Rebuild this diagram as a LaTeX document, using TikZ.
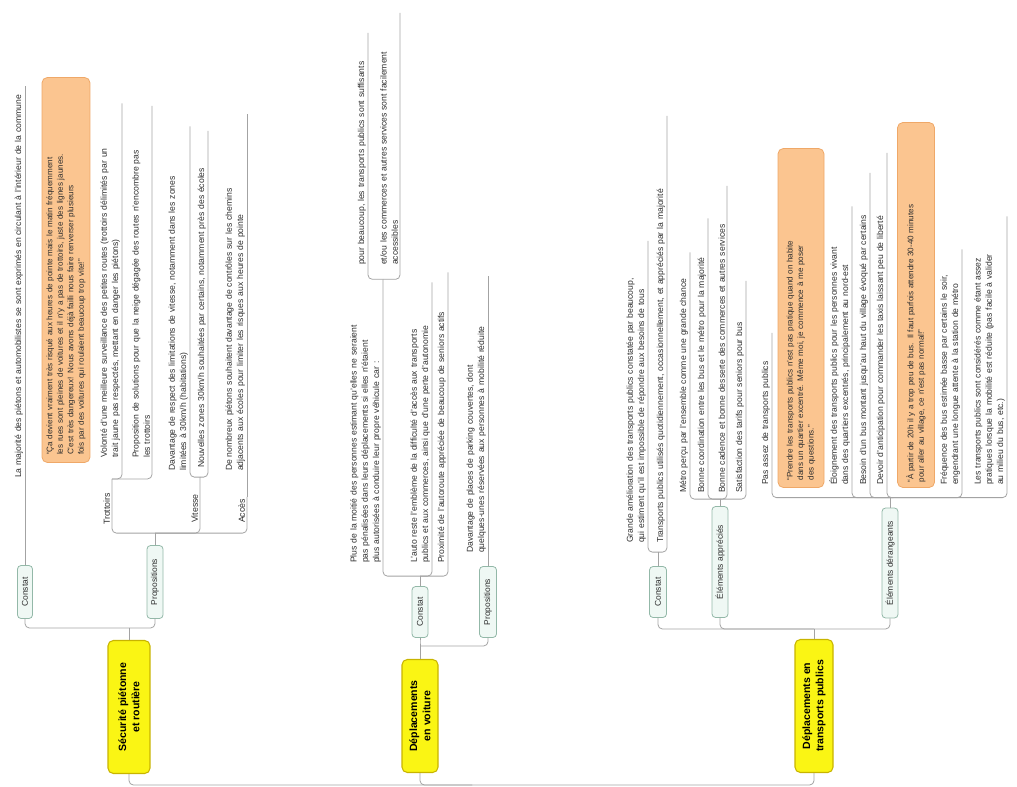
\documentclass[tikz,border=0pt]{standalone}
\usepackage{fontspec}
\setmainfont{Liberation Sans}
\usepackage{tikz}

\definecolor{branchgray}{HTML}{A3A3A3}
\definecolor{topicyellow}{HTML}{FAF514}
\definecolor{topicborder}{HTML}{C8B400}
\definecolor{labelfill}{HTML}{EFF8F4}
\definecolor{labelborder}{HTML}{93B8A8}
\definecolor{quotefill}{HTML}{FBC590}
\definecolor{quoteborder}{HTML}{EFA868}
\definecolor{leaftext}{HTML}{2E2E2E}

\tikzset{
  branch/.style={draw=branchgray, line width=0.45pt, rounded corners=2.5pt},
  topic box/.style={rotate=90, draw=topicborder, fill=topicyellow, rounded corners=3pt, line width=0.6pt, align=center, inner sep=1pt, font=\fontsize{6}{7.5}\selectfont\bfseries},
  label box/.style={rotate=90, draw=labelborder, fill=labelfill, rounded corners=2pt, line width=0.45pt, inner sep=1pt, text=leaftext, font=\fontsize{4.8}{6}\selectfont},
  sub label/.style={rotate=90, anchor=south west, inner sep=1pt, text=leaftext, font=\fontsize{5}{6}\selectfont},
  leaf/.style={rotate=90, anchor=south west, align=left, inner sep=1pt, text=leaftext, font=\fontsize{4.9}{6.4}\selectfont},
  quote box/.style={rotate=90, draw=quoteborder, fill=quotefill, rounded corners=3pt, line width=0.45pt, align=left, inner sep=2pt, text=leaftext, font=\fontsize{4.6}{6}\selectfont}
}

\begin{document}
\begin{tikzpicture}[x=0.02cm, y=-0.02cm]
\useasboundingbox (0, 0) rectangle (1017, 787);

\node[topic box, minimum width=2.66cm, minimum height=0.84cm] (securite box) at (129, 707) {Sécurité piétonne\\et routière};
\node[label box, minimum width=1.06cm, minimum height=0.3cm] (securite constat) at (25, 592) {Constat};
\node[label box, minimum width=1.46cm, minimum height=0.32cm] (securite propositions) at (155, 582) {Propositions};

\node[leaf, text width=7.8cm] (securite majorite) at (25, 480) {La majorité des piétons et automobilistes se sont exprimés en circulant à l'intérieur de la commune};
\node[quote box, minimum width=7.7cm, minimum height=0.96cm, text width=7.4cm] (securite citation) at (66, 270) {“Ça devient vraiment très risqué aux heures de pointe mais le matin fréquemment\\les rues sont pleines de voitures et il n'y a pas de trottoirs, juste des lignes jaunes.\\C'est très dangereux! Nous avons déjà failli nous faire renverser plusieurs\\fois par des voitures qui roulaient beaucoup trop vite!”};

\node[sub label] (trottoirs) at (112, 527) {Trottoirs};
\node[leaf, text width=7.05cm] (volonte surveillance) at (122, 460) {Volonté d'une meilleure surveillance des petites routes (trottoirs délimités par un\\trait jaune pas respectés, mettant en danger les piétons)};
\node[leaf, text width=7cm] (neige trottoirs) at (152, 460) {Proposition de solutions pour que la neige dégagée des routes n'encombre pas\\les trottoirs};

\node[sub label] (vitesse) at (200, 525) {Vitesse};
\node[leaf, text width=6.85cm] (respect limitations) at (190, 473) {Davantage de respect des limitations de vitesse, notamment dans les zones\\limitées à 30km/h (habitations)};
\node[leaf, text width=6.7cm] (zones trente) at (208, 470) {Nouvelles zones 30km/h souhaitées par certains, notamment près des écoles};

\node[sub label] (acces) at (247, 525) {Accès};
\node[leaf, text width=7.1cm] (acces chemins) at (247, 473) {De nombreux piétons souhaitent davantage de contrôles sur les chemins\\adjacents aux écoles pour limiter les risques aux heures de pointe};

\node[topic box, minimum width=2.26cm, minimum height=0.72cm] (voiture box) at (420, 716) {Déplacements\\en voiture};
\node[label box, minimum width=1.02cm, minimum height=0.32cm] (voiture constat) at (420, 612) {Constat};
\node[label box, minimum width=1.42cm, minimum height=0.34cm] (voiture propositions) at (488, 602) {Propositions};

\node[leaf, text width=5.57cm] (moitie personnes) at (383, 565) {Plus de la moitié des personnes estimant qu'elles ne seraient\\pas pénalisées dans leurs déplacements si elles n'étaient\\plus autorisées à conduire leur propre véhicule car :};
\node[leaf, text width=4.6cm] (transports suffisants) at (368, 267) {pour beaucoup, les transports publics sont suffisants};
\node[leaf, text width=5cm] (commerces accessibles) at (400, 267) {et/ou les commerces et autres services sont facilement\\accessibles};
\node[leaf, text width=5.57cm] (perte autonomie) at (432, 565) {L'auto reste l'emblème de la difficulté d'accès aux transports\\publics et aux commerces, ainsi que d'une perte d'autonomie};
\node[leaf, text width=5.77cm] (autoroute) at (448, 565) {Proximité de l'autoroute appréciée de beaucoup de seniors actifs};
\node[leaf, text width=5.5cm] (parking) at (488, 555) {Davantage de places de parking couvertes, dont\\quelques-unes réservées aux personnes à mobilité réduite};

\node[topic box, minimum width=2.66cm, minimum height=0.76cm] (transports box) at (814, 706) {Déplacements en\\transports publics};
\node[label box, minimum width=1.02cm, minimum height=0.34cm] (transports constat) at (658, 592) {Constat};
\node[label box, minimum width=2.22cm, minimum height=0.32cm] (elements apprecies) at (720, 562) {Éléments appréciés};
\node[label box, minimum width=2.2cm, minimum height=0.32cm] (elements derangeants) at (890, 563) {Éléments dérangeants};

\node[leaf, text width=6cm] (grande amelioration) at (648, 545) {Grande amélioration des transports publics constatée par beaucoup,\\qui estiment qu'il est impossible de répondre aux besoins de tous};
\node[leaf, text width=8.5cm] (utilises quotidiennement) at (667, 545) {Transports publics utilisés quotidiennement, occasionnellement, et appréciés par la majorité};

\node[leaf, text width=4.77cm] (metro percu) at (690, 495) {Métro perçu par l'ensemble comme une grande chance};
\node[leaf, text width=5.45cm] (coordination) at (708, 495) {Bonne coordination entre les bus et le métro pour la majorité};
\node[leaf, text width=6.1cm] (cadence) at (727, 495) {Bonne cadence et bonne desserte des commerces et autres services};
\node[leaf, text width=4.2cm] (tarifs seniors) at (746, 495) {Satisfaction des tarifs pour seniors pour bus};

\node[leaf, text width=3cm] (pas assez) at (772, 487) {Pas assez de transports publics};
\node[quote box, minimum width=6.78cm, minimum height=0.92cm, text width=6.5cm] (citation rentrer) at (801, 318) {“Prendre les transports publics n'est pas pratique quand on habite\\dans un quartier excentré. Même moi, je commence à me poser\\des questions.”};
\node[leaf, text width=5.53cm] (eloignement) at (852, 487) {Éloignement des transports publics pour les personnes vivant\\dans des quartiers excentrés, principalement au nord-est};
\node[leaf, text width=6.2cm] (bus village) at (870, 487) {Besoin d'un bus montant jusqu'au haut du village évoqué par certains};
\node[leaf, text width=6.6cm] (anticipation) at (887, 487) {Devoir d'anticipation pour commander les taxis laissant peu de liberté};
\node[quote box, minimum width=7.3cm, minimum height=0.74cm, text width=7.1cm] (citation soir) at (916, 305) {“À partir de 20h il y a trop peu de bus. Il faut parfois attendre 30-40 minutes\\pour aller au village, ce n'est pas normal!”};
\node[leaf, text width=4.67cm] (frequence bus) at (962, 487) {Fréquence des bus estimée basse par certains le soir,\\engendrant une longue attente à la station de métro};
\node[leaf, text width=5.33cm] (mobilite reduite) at (1007, 487) {Les transports publics sont considérés comme étant assez\\pratiques lorsque la mobilité est réduite (pas facile à valider\\au milieu du bus, etc.)};

\coordinate (carte) at (472, 785);
\draw[branch] (securite box.west) |- (carte);
\draw[branch] (voiture box.west) |- (carte);
\draw[branch] (transports box.west) |- (carte);

\draw[branch] (securite box.east) -- ++(0, -12) coordinate (securite fork);
\draw[branch] (securite fork) -| (securite constat.west);
\draw[branch] (securite fork) -| (securite propositions.west);
\draw[branch] (securite constat.east) -- (securite majorite.south east);
\draw[branch] (securite propositions.east) -- ++(0, -12) coordinate (propositions fork);
\draw[branch] (propositions fork) -| ([yshift=0.24cm] trottoirs.south east) coordinate (trottoirs fork);
\draw[branch] (trottoirs fork) -| (volonte surveillance.south east);
\draw[branch] (trottoirs fork) -| (neige trottoirs.south east);
\draw[branch] (propositions fork) -| ([yshift=0.3cm] vitesse.south east) coordinate (vitesse fork);
\draw[branch] (vitesse fork) -| (respect limitations.south east);
\draw[branch] (vitesse fork) -| (zones trente.south east);
\draw[branch] (propositions fork) -| (acces.south east);
\draw[branch] (acces.south east) -- (acces chemins.south east);

\draw[branch] (voiture box.east) -- ++(0, -13) coordinate (voiture fork);
\draw[branch] (voiture fork) -| (voiture constat.west);
\draw[branch] (voiture fork) -| (voiture propositions.west);
\draw[branch] (voiture constat.east) -- ++(0, -10) coordinate (constat voiture fork);
\draw[branch] (constat voiture fork) -| ([yshift=0.06cm] moitie personnes.south east) coordinate (moitie fork);
\draw[branch] (moitie fork) -| (transports suffisants.south east);
\draw[branch] (moitie fork) -| (commerces accessibles.south east);
\draw[branch] (constat voiture fork) -| (perte autonomie.south east);
\draw[branch] (constat voiture fork) -| (autoroute.south east);
\draw[branch] (voiture propositions.east) -- (parking.south east);

\draw[branch] (transports box.east) -- ++(0, -10) coordinate (transports fork);
\draw[branch] (transports fork) -| (transports constat.west);
\draw[branch] (transports fork) -| (elements apprecies.west);
\draw[branch] (transports fork) -| (elements derangeants.west);
\draw[branch] (transports constat.east) -- ++(0, -14) coordinate (constat transports fork);
\draw[branch] (constat transports fork) -| (grande amelioration.south east);
\draw[branch] (constat transports fork) -| (utilises quotidiennement.south east);
\draw[branch] (elements apprecies.east) -- ++(0, -7) coordinate (apprecies fork);
\draw[branch] (apprecies fork) -| (metro percu.south east);
\draw[branch] (apprecies fork) -| (coordination.south east);
\draw[branch] (apprecies fork) -| (cadence.south east);
\draw[branch] (apprecies fork) -| (tarifs seniors.south east);
\draw[branch] (elements derangeants.east) -- ++(0, -10) coordinate (derangeants fork);
\draw[branch] (derangeants fork) -| (pas assez.south east);
\draw[branch] (derangeants fork) -| (eloignement.south east);
\draw[branch] (derangeants fork) -| (bus village.south east);
\draw[branch] (derangeants fork) -| (anticipation.south east);
\draw[branch] (derangeants fork) -| (frequence bus.south east);
\draw[branch] (derangeants fork) -| (mobilite reduite.south east);
\end{tikzpicture}
\end{document}
